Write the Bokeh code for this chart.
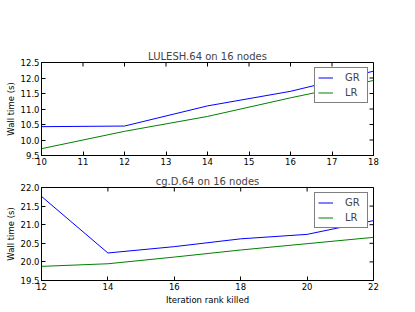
import math
from bokeh.plotting import figure
from bokeh.models import Range1d, FixedTicker, Legend, LegendItem
from bokeh.layouts import column
from bokeh.embed import file_html
from bokeh.resources import INLINE

# ---- data ----
lulesh_x = [10, 12, 14, 16, 18]
lulesh_gr = [10.43, 10.45, 11.10, 11.57, 12.22]
lulesh_lr = [9.72, 10.28, 10.76, 11.36, 11.92]

cg_x = [12, 14, 16, 18, 20, 22]
cg_gr = [21.76, 20.24, 20.41, 20.62, 20.74, 21.11]
cg_lr = [19.88, 19.95, 20.13, 20.32, 20.49, 20.66]

top_xticks = [10, 11, 12, 13, 14, 15, 16, 17, 18]
top_xlabels = ["10", "11", "12", "13", "14", "15", "16", "17", "18"]
top_yticks = [9.5, 10.0, 10.5, 11.0, 11.5, 12.0, 12.5]
top_ylabels = ["9.5", "10.0", "10.5", "11.0", "11.5", "12.0", "12.5"]

bot_xticks = [12, 14, 16, 18, 20, 22]
bot_xlabels = ["12", "14", "16", "18", "20", "22"]
bot_yticks = [19.5, 20.0, 20.5, 21.0, 21.5, 22.0]
bot_ylabels = ["19.5", "20.0", "20.5", "21.0", "21.5", "22.0"]

series_names = ["GR", "LR"]
series_colors = ["#0000ff", "#008000"]

FONT = "DejaVu Sans"
TICK_FS = "8.5px"


def style_axis(ax, ticks, labels):
    ax.ticker = FixedTicker(ticks=ticks)
    ax.major_label_overrides = {t: l for t, l in zip(ticks, labels)}
    ax.major_tick_in = 4
    ax.major_tick_out = 0
    ax.minor_tick_in = 0
    ax.minor_tick_out = 0
    ax.axis_line_color = "black"
    ax.major_tick_line_color = "black"
    ax.major_label_text_font = FONT
    ax.major_label_text_color = "black"
    ax.major_label_text_font_size = TICK_FS
    ax.major_label_standoff = 2
    ax.axis_label_text_font = FONT
    ax.axis_label_text_font_style = "normal"
    ax.axis_label_text_font_size = "8.5px"
    ax.axis_label_text_color = "black"


def make_fig(title, xs, gr, lr, xr, yr, xt, xl, yt, yl, height, btop, bbottom, xlabel=None):
    p = figure(width=415, height=height, output_backend="svg", toolbar_location=None,
               x_range=Range1d(*xr), y_range=Range1d(*yr),
               min_border_left=41, min_border_right=42,
               min_border_top=btop, min_border_bottom=bbottom)
    p.title.text = title
    p.title.text_font = FONT
    p.title.text_font_style = "normal"
    p.title.text_font_size = "10px"
    p.title.align = "center"
    p.title.standoff = 1
    p.title.offset = 0
    p.xgrid.visible = False
    p.ygrid.visible = False
    p.outline_line_color = "black"
    p.outline_line_width = 1
    p.background_fill_color = "white"
    p.border_fill_color = "white"

    style_axis(p.xaxis[0], xt, xl)
    style_axis(p.yaxis[0], yt, yl)
    p.yaxis[0].axis_label = "Wall time (s)"
    p.yaxis[0].axis_label_standoff = 2
    if xlabel:
        p.xaxis[0].axis_label = xlabel
        p.xaxis[0].axis_label_standoff = 2

    # inward tick marks on the top and right edges (clipped to the frame)
    p.scatter(xt, [yr[1]] * len(xt), marker="dash", size=8, angle=math.pi / 2,
              line_color="black", line_width=1)
    p.scatter([xr[1]] * len(yt), yt, marker="dash", size=8,
              line_color="black", line_width=1)

    r1 = p.line(xs, gr, line_color=series_colors[0], line_width=1)
    r2 = p.line(xs, lr, line_color=series_colors[1], line_width=1)

    legend = Legend(items=[LegendItem(label=series_names[0], renderers=[r1]),
                           LegendItem(label=series_names[1], renderers=[r2])],
                    location="top_right")
    legend.margin = 5
    legend.padding = 3
    legend.spacing = 2
    legend.glyph_width = 15
    legend.glyph_height = 13
    legend.label_height = 13
    legend.label_width = 19
    legend.label_standoff = 12
    legend.label_text_font = FONT
    legend.label_text_font_size = "10px"
    legend.border_line_color = "black"
    legend.border_line_width = 1
    legend.background_fill_alpha = 1
    p.add_layout(legend, "center")
    return p


p1 = make_fig("LULESH.64 on 16 nodes", lulesh_x, lulesh_gr, lulesh_lr,
              (10, 18), (9.5, 12.5), top_xticks, top_xlabels, top_yticks, top_ylabels,
              170, 62, 15)
p2 = make_fig("cg.D.64 on 16 nodes", cg_x, cg_gr, cg_lr,
              (12, 22), (19.5, 22.0), bot_xticks, bot_xlabels, bot_yticks, bot_ylabels,
              141, 17, 31, xlabel="Iteration rank killed")

layout = column(p1, p2, spacing=0)
open("out.html", "w").write(file_html(layout, INLINE))
